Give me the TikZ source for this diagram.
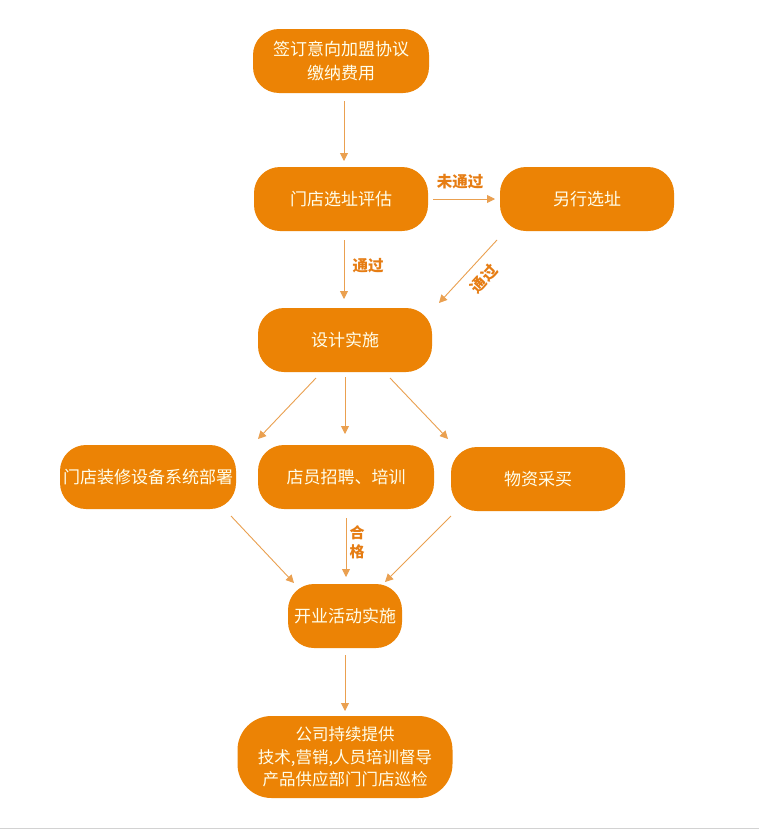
\documentclass[tikz,border=0pt]{standalone}
\usepackage{fontspec}
\setmainfont{Noto Sans CJK SC}
\usetikzlibrary{arrows.meta}
\definecolor{boxor}{RGB}{236,131,5}
\definecolor{arror}{RGB}{234,160,80}
\definecolor{lblor}{RGB}{230,125,20}
\begin{document}
\begin{tikzpicture}[x=1pt,y=-1pt,
  box/.style={draw=none,fill=boxor,rounded corners=26pt,text=white!92!yellow,
    font=\fontsize{17}{24}\selectfont,align=center,inner sep=0pt},
  arr/.style={draw=arror,line width=0.9pt,-{Triangle[width=8pt,length=8pt]}},
  lbl/.style={text=lblor,font=\fontsize{15.5}{18}\selectfont\bfseries,inner sep=1pt}]
\path[use as bounding box] (0,0) rectangle (759,830);
\fill[white] (0,0) rectangle (759,830);
\draw[gray!35,line width=1.5pt] (0,828.5) -- (759,828.5);

\node[box,minimum width=176pt,minimum height=64pt] (b1) at (341,61) {签订意向加盟协议\\缴纳费用};
\node[box,minimum width=174pt,minimum height=64pt] (b2) at (341,199) {门店选址评估};
\node[box,minimum width=174pt,minimum height=64pt] (b3) at (587,199) {另行选址};
\node[box,minimum width=174pt,minimum height=64pt] (b4) at (345,340) {设计实施};
\node[box,minimum width=176pt,minimum height=64pt] (c1) at (148,477) {门店装修设备系统部署};
\node[box,minimum width=176pt,minimum height=64pt] (c2) at (346,477) {店员招聘、培训};
\node[box,minimum width=174pt,minimum height=64pt] (c3) at (538,479) {物资采买};
\node[box,minimum width=114pt,minimum height=64pt] (d1) at (345,616) {开业活动实施};
\node[box,minimum width=215pt,minimum height=82pt,rounded corners=34pt,
  font=\fontsize{16.5}{22.5}\selectfont] (e1) at (345,757) {公司持续提供\\技术,营销,人员培训督导\\产品供应部门门店巡检};

\coordinate (p1s) at (344,101); \coordinate (p1e) at (344,161);
\coordinate (p2s) at (433,199); \coordinate (p2e) at (495,199);
\coordinate (p3s) at (344,240); \coordinate (p3e) at (344,299);
\coordinate (p4s) at (497,240); \coordinate (p4e) at (439,303);
\coordinate (q1s) at (316,378); \coordinate (q1e) at (258,439);
\coordinate (q2s) at (345,377); \coordinate (q2e) at (345,434);
\coordinate (q3s) at (390,378); \coordinate (q3e) at (448,439);
\coordinate (r1s) at (231,516); \coordinate (r1e) at (294,583);
\coordinate (r2s) at (346,518); \coordinate (r2e) at (346,577);
\coordinate (r3s) at (451,516); \coordinate (r3e) at (385,582);
\coordinate (s1s) at (345,655); \coordinate (s1e) at (345,711);

\draw[arr] (p1s) -- (p1e);
\draw[arr] (p2s) -- (p2e);
\draw[arr] (p3s) -- (p3e);
\draw[arr] (p4s) -- (p4e);
\draw[arr] (q1s) -- (q1e);
\draw[arr] (q2s) -- (q2e);
\draw[arr] (q3s) -- (q3e);
\draw[arr] (r1s) -- (r1e);
\draw[arr] (r2s) -- (r2e);
\draw[arr] (r3s) -- (r3e);
\draw[arr] (s1s) -- (s1e);

\node[lbl] (l1) at (460,182) {未通过};
\node[lbl] (l2) at (368,266) {通过};
\node[lbl,rotate=47.4] (l3) at (484,279) {通过};
\node[lbl,align=center,font=\fontsize{15}{19}\selectfont\bfseries] (l4) at (357,542) {合\\格};
\end{tikzpicture}
\end{document}
